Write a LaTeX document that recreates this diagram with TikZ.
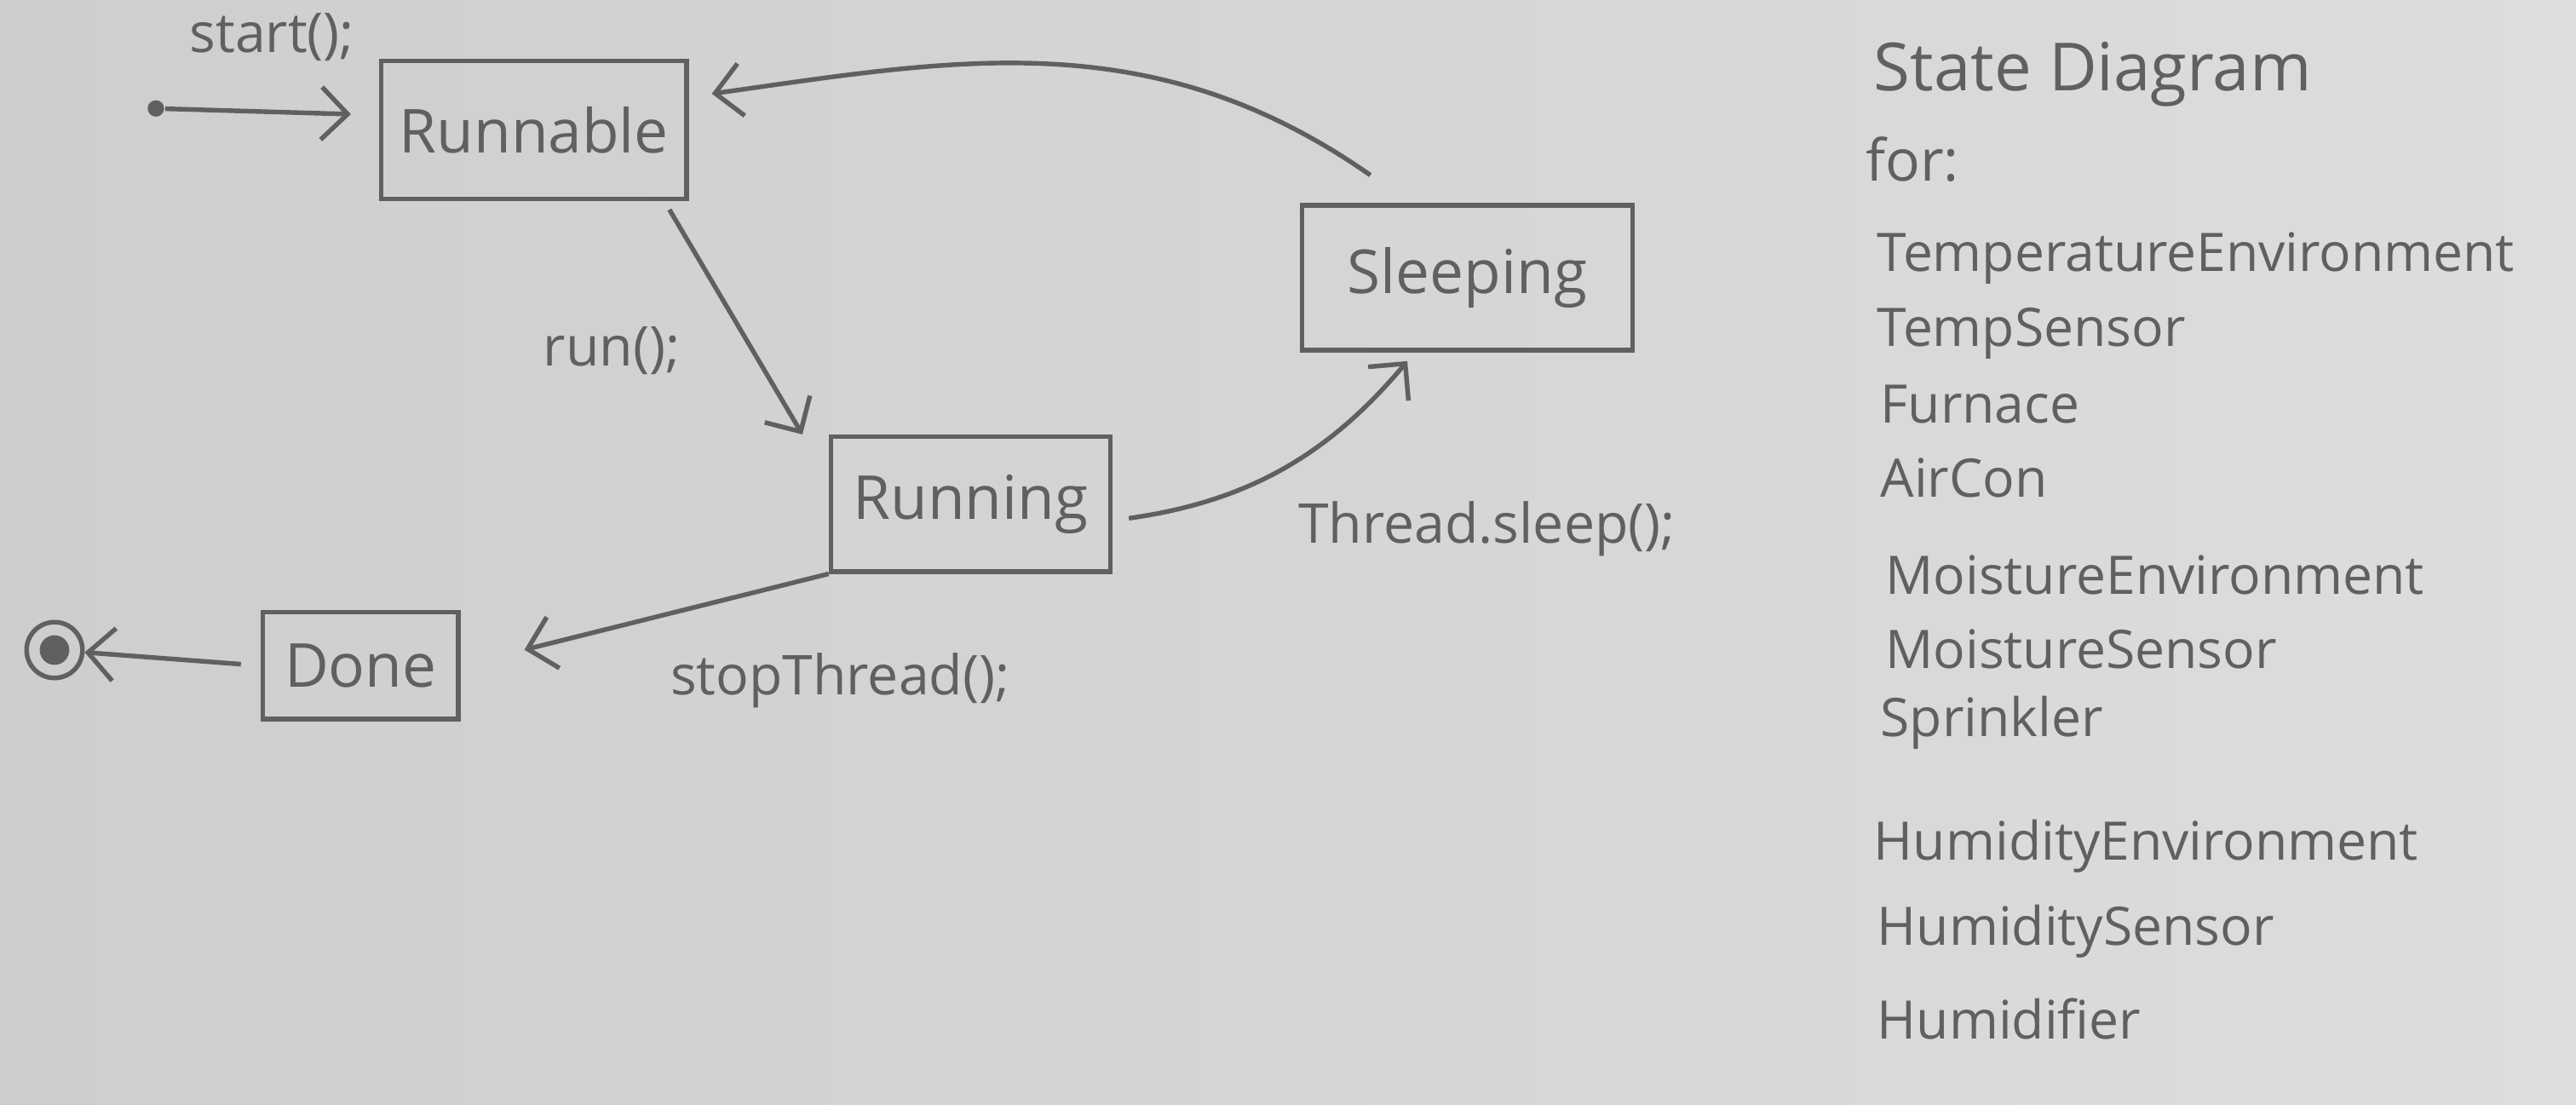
\documentclass[tikz,border=0pt]{standalone}
\usepackage{fontspec}
\setmainfont{Open Sans}
\usetikzlibrary{arrows.meta, positioning}
\definecolor{pencil}{RGB}{96,96,96}
\definecolor{paperl}{RGB}{207,205,205}
\definecolor{paperr}{RGB}{221,221,221}

\begin{document}
\begin{tikzpicture}[node distance=1cm, every node/.style={font=\fontsize{9.5}{11}\selectfont, text=pencil},
    box/.style={rectangle, draw=pencil, line width=0.8pt, font=\fontsize{10.5}{12}\selectfont, inner sep=0pt},
    arr/.style={draw=pencil, line width=0.8pt, -{Straight Barb[length=1.6mm, width=3.2mm]}},
    item/.style={anchor=west, inner sep=0pt, font=\fontsize{9.2}{11}\selectfont}]
    \useasboundingbox (0,0) rectangle (15.68,-6.72);
    \shade[left color=paperl, right color=paperr] (0,0) rectangle (15.68,-6.72);
    % states
    \node[box, minimum width=1.86cm, minimum height=0.84cm] (runnable) at (3.25,-0.79) {Runnable};
    \node[box, minimum width=1.70cm, minimum height=0.82cm, below right=1.42cm and 0.85cm of runnable] (running) {Running};
    \node[box, minimum width=2.01cm, minimum height=0.88cm, above right=0.50cm and 1.14cm of running] (sleeping) {Sleeping};
    \node[box, minimum width=1.19cm, minimum height=0.65cm, below left=0.22cm and 2.24cm of running] (done) {Done};
    \node[circle, fill=pencil, inner sep=0pt, minimum size=1mm, left=1.3cm of runnable, yshift=1.3mm] (init) {};
    \node[circle, draw=pencil, line width=0.8pt, inner sep=0pt, minimum size=3.4mm, left=1.07cm of done, yshift=0.95mm] (final) {};
    \fill[pencil] (final) circle (0.9mm);
    % transitions
    \draw[arr, shorten >=1.7mm] (init) -- ([yshift=0.9mm]runnable.west) node[midway, above=1.8mm] (lstart) {start();};
    \draw[arr, shorten <=0.6mm] ([xshift=-1.5mm]runnable.south east) -- ([xshift=-1.6mm]running.north west) node[pos=0.64, left=3.1mm] (lrun) {run();};
    \draw[arr, shorten <=1mm, shorten >=0.7mm] ([yshift=-1mm]running.east) to[out=8, in=230] node[pos=0, right=10mm, yshift=-0.5mm] (lsleep) {Thread.sleep();} ([xshift=-3.2mm]sleeping.south);
    \draw[arr, shorten >=1.4mm] ([xshift=-5.9mm, yshift=1.7mm]sleeping.north) to[out=145, in=8] ([yshift=2mm]runnable.east);
    \draw[arr, shorten >=4mm] (running.south west) -- (done.east) node[pos=0, below=3.5mm, xshift=0.7mm] (lstop) {stopThread();};
    \draw[arr, shorten <=1.2mm] (done.west) -- (final);
    % class list
    \node[item, font=\fontsize{11.5}{13}\selectfont] (title) at (11.40,-0.45) {State Diagram};
    \node[item, font=\fontsize{10}{12}\selectfont] (for) at (11.35,-0.97) {for:};
    \node[item] (tempenv) at (11.42,-1.57) {TemperatureEnvironment};
    \node[item] (tempsens) at (11.42,-2.03) {TempSensor};
    \node[item] (furnace) at (11.44,-2.46) {Furnace};
    \node[item] (aircon) at (11.44,-2.91) {AirCon};
    \node[item] (moistenv) at (11.47,-3.50) {MoistureEnvironment};
    \node[item] (moistsens) at (11.47,-3.95) {MoistureSensor};
    \node[item] (sprinkler) at (11.44,-4.40) {Sprinkler};
    \node[item] (humidenv) at (11.40,-5.15) {HumidityEnvironment};
    \node[item] (humidsens) at (11.42,-5.67) {HumiditySensor};
    \node[item] (humidifier) at (11.42,-6.20) {Humidifier};
\end{tikzpicture}
\end{document}
